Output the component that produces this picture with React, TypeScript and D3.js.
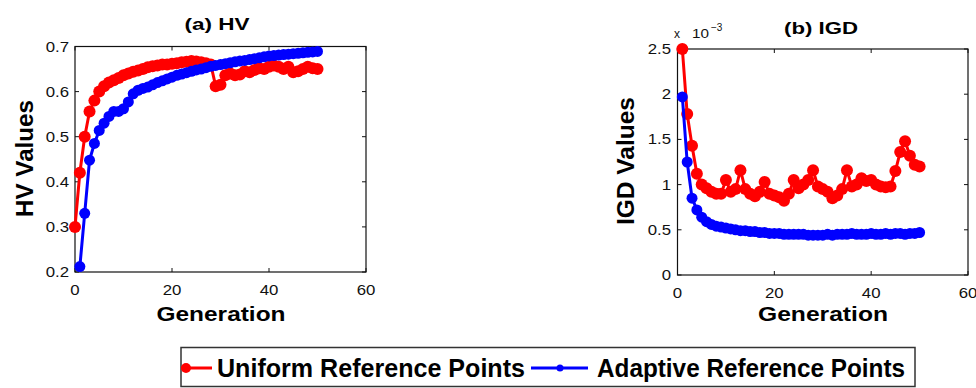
import React from "react";
import * as d3 from "d3";

// ---------- data ----------
const xTicks = [0, 20, 40, 60];
const hvTicks = [0.2, 0.3, 0.4, 0.5, 0.6, 0.7];
const igdTicks = [0, 0.5, 1, 1.5, 2, 2.5];

// HV, Uniform reference points (generation 0..50)
const hvUniform = [
  0.30, 0.42, 0.50, 0.556, 0.58, 0.60, 0.612, 0.62, 0.625, 0.63,
  0.636, 0.64, 0.644, 0.647, 0.65, 0.654, 0.656, 0.658, 0.66, 0.66,
  0.662, 0.663, 0.665, 0.666, 0.668, 0.667, 0.665, 0.663, 0.66, 0.612,
  0.615, 0.636, 0.64, 0.636, 0.638, 0.645, 0.643, 0.648, 0.652, 0.65,
  0.655, 0.658, 0.655, 0.65, 0.655, 0.643, 0.645, 0.65, 0.655, 0.652,
  0.650,
];
// HV, Adaptive reference points (generation 1..50)
const hvAdaptive = [
  0.212, 0.33, 0.448, 0.485, 0.514, 0.53, 0.545, 0.556, 0.556, 0.562,
  0.577, 0.595, 0.603, 0.607, 0.61, 0.615, 0.62, 0.624, 0.628, 0.632,
  0.636, 0.639, 0.642, 0.645, 0.648, 0.65, 0.653, 0.656, 0.658, 0.66,
  0.662, 0.664, 0.666, 0.668, 0.669, 0.671, 0.673, 0.675, 0.677, 0.679,
  0.68, 0.681, 0.682, 0.683, 0.684, 0.685, 0.686, 0.687, 0.688, 0.689,
];
// IGD (x 10^-3), Uniform (generation 1..50)
const igdUniform = [
  2.5, 1.78, 1.43, 1.12, 1.0, 0.96, 0.92, 0.9, 0.9, 1.05,
  0.92, 0.95, 1.16, 0.95, 0.9, 0.87, 0.92, 1.03, 0.9, 0.88,
  0.86, 0.82, 0.9, 1.05, 0.96, 1.0, 1.05, 1.16, 0.98, 0.95,
  0.92, 0.85, 0.88, 0.95, 1.16, 0.98, 1.0, 1.07, 1.04, 1.05,
  1.0, 0.98, 0.97, 0.98, 1.15, 1.36, 1.48, 1.32, 1.22, 1.2,
];
// IGD (x 10^-3), Adaptive (generation 1..50)
const igdAdaptive = [
  1.97, 1.25, 0.85, 0.72, 0.64, 0.59, 0.56, 0.54, 0.53, 0.52,
  0.51, 0.5, 0.49, 0.49, 0.48, 0.48, 0.47, 0.47, 0.46, 0.46,
  0.46, 0.45, 0.45, 0.45, 0.45, 0.45, 0.44, 0.44, 0.44, 0.44,
  0.45, 0.44, 0.45, 0.45, 0.45, 0.46, 0.45, 0.45, 0.45, 0.46,
  0.45, 0.45, 0.46, 0.45, 0.46, 0.46, 0.45, 0.46, 0.46, 0.47,
];

const seriesNames = ["Uniform Reference Points", "Adaptive Reference Points"];
const RED = "#ff0000";
const BLUE = "#0000ff";
const FONT = "'Liberation Sans', Arial, Helvetica, sans-serif";

type Pt = { g: number; v: number };
const toPts = (arr: number[], start: number): Pt[] => arr.map((v, i) => ({ g: i + start, v }));

function Panel(props: {
  x0: number; x1: number; y0: number; y1: number;
  yDomain: [number, number]; yTicks: number[];
  fmt: (v: number) => string;
  series: { pts: Pt[]; color: string; r: number }[];
  labelRight: number;
}) {
  const { x0, x1, y0, y1, yDomain, yTicks, fmt, series, labelRight } = props;
  const xs = d3.scaleLinear().domain([0, 60]).range([x0, x1]);
  const ys = d3.scaleLinear().domain(yDomain).range([y1, y0]);
  const line = d3.line<Pt>().x((d) => xs(d.g)).y((d) => ys(d.v));
  const tl = 4;
  return (
    <g>
      <rect x={x0} y={y0} width={x1 - x0} height={y1 - y0} fill="white" stroke="#111" strokeWidth={1.2} />
      {xTicks.map((t) => (
        <g key={"xt" + t}>
          <line x1={xs(t)} x2={xs(t)} y1={y1} y2={y1 - tl} stroke="#111" />
          <line x1={xs(t)} x2={xs(t)} y1={y0} y2={y0 + tl} stroke="#111" />
          <text transform={`translate(${xs(t)},${y1 + 23}) scale(1.2,1)`} textAnchor="middle"
            fontFamily={FONT} fontSize={14} fill="#111">{t}</text>
        </g>
      ))}
      {yTicks.map((t) => (
        <g key={"yt" + t}>
          <line x1={x0} x2={x0 + tl} y1={ys(t)} y2={ys(t)} stroke="#111" />
          <line x1={x1} x2={x1 - tl} y1={ys(t)} y2={ys(t)} stroke="#111" />
          <text transform={`translate(${labelRight},${ys(t) + 5}) scale(1.2,1)`} textAnchor="end"
            fontFamily={FONT} fontSize={14} fill="#111">{fmt(t)}</text>
        </g>
      ))}
      {series.map((s, i) => (
        <g key={"s" + i}>
          <path d={line(s.pts) || ""} fill="none" stroke={s.color} strokeWidth={3} />
          {s.pts.map((p, j) => (
            <circle key={j} cx={xs(p.g)} cy={ys(p.v)} r={s.r} fill={s.color} />
          ))}
        </g>
      ))}
    </g>
  );
}

export default function App() {
  const hvU = toPts(hvUniform, 0);
  const hvA = toPts(hvAdaptive, 1);
  const igU = toPts(igdUniform, 1);
  const igA = toPts(igdAdaptive, 1);
  const fmtHV = (v: number) => d3.format(".1f")(v);
  const fmtIGD = (v: number) => String(v);
  return (
    <svg width={976} height={388} style={{ position: "absolute", left: 0, top: 0, background: "white" }}>
      <rect x={0} y={0} width={976} height={388} fill="white" />
      {/* left panel */}
      <Panel x0={75} x1={366} y0={46.5} y1={272} yDomain={[0.2, 0.7]} yTicks={hvTicks} fmt={fmtHV}
        labelRight={69}
        series={[{ pts: hvU, color: RED, r: 6 }, { pts: hvA, color: BLUE, r: 5.5 }]} />
      <text x={217} y={29.5} textAnchor="middle" fontFamily={FONT} fontWeight="bold" fontSize={16}
        textLength={65} lengthAdjust="spacingAndGlyphs">(a) HV</text>
      <text x={221} y={321} textAnchor="middle" fontFamily={FONT} fontWeight="bold" fontSize={19.5}
        textLength={129} lengthAdjust="spacingAndGlyphs">Generation</text>
      <text transform="translate(33,158.5) rotate(-90)" textAnchor="middle" fontFamily={FONT}
        fontWeight="bold" fontSize={24} textLength={117} lengthAdjust="spacingAndGlyphs">HV Values</text>

      {/* right panel */}
      <Panel x0={677.5} x1={968} y0={49} y1={275} yDomain={[0, 2.5]} yTicks={igdTicks} fmt={fmtIGD}
        labelRight={671}
        series={[{ pts: igU, color: RED, r: 6 }, { pts: igA, color: BLUE, r: 5.5 }]} />
      <text x={821} y={33.5} textAnchor="middle" fontFamily={FONT} fontWeight="bold" fontSize={16}
        textLength={74} lengthAdjust="spacingAndGlyphs">(b) IGD</text>
      <text x={823} y={321} textAnchor="middle" fontFamily={FONT} fontWeight="bold" fontSize={19.5}
        textLength={130} lengthAdjust="spacingAndGlyphs">Generation</text>
      <text transform="translate(634,161) rotate(-90)" textAnchor="middle" fontFamily={FONT}
        fontWeight="bold" fontSize={24} textLength={128} lengthAdjust="spacingAndGlyphs">IGD Values</text>
      <text x={677} y={38} textAnchor="middle" fontFamily={FONT} fontSize={12} fill="#111">x</text>
      <text x={692} y={38} fontFamily={FONT} fontSize={13} fill="#111" textLength={17}
        lengthAdjust="spacingAndGlyphs">10</text>
      <text x={711} y={31} fontFamily={FONT} fontSize={10} fill="#111">−3</text>

      {/* legend */}
      <defs>
        <clipPath id="legClip">
          <rect x={181} y={347} width={735} height={40} />
        </clipPath>
      </defs>
      <rect x={181} y={347.5} width={734} height={39} fill="white" stroke="#333" strokeWidth={1.5} />
      <g clipPath="url(#legClip)">
        <line x1={160} x2={212} y1={368} y2={368} stroke={RED} strokeWidth={3} />
        <circle cx={186} cy={368} r={5} fill={RED} />
      </g>
      <text x={217} y={377} fontFamily={FONT} fontWeight="bold" fontSize={25} textLength={308}
        lengthAdjust="spacingAndGlyphs">{seriesNames[0]}</text>
      <line x1={531} x2={588} y1={368} y2={368} stroke={BLUE} strokeWidth={3} />
      <circle cx={560} cy={368} r={3.5} fill={BLUE} />
      <text x={597} y={377} fontFamily={FONT} fontWeight="bold" fontSize={25} textLength={308}
        lengthAdjust="spacingAndGlyphs">{seriesNames[1]}</text>
    </svg>
  );
}
